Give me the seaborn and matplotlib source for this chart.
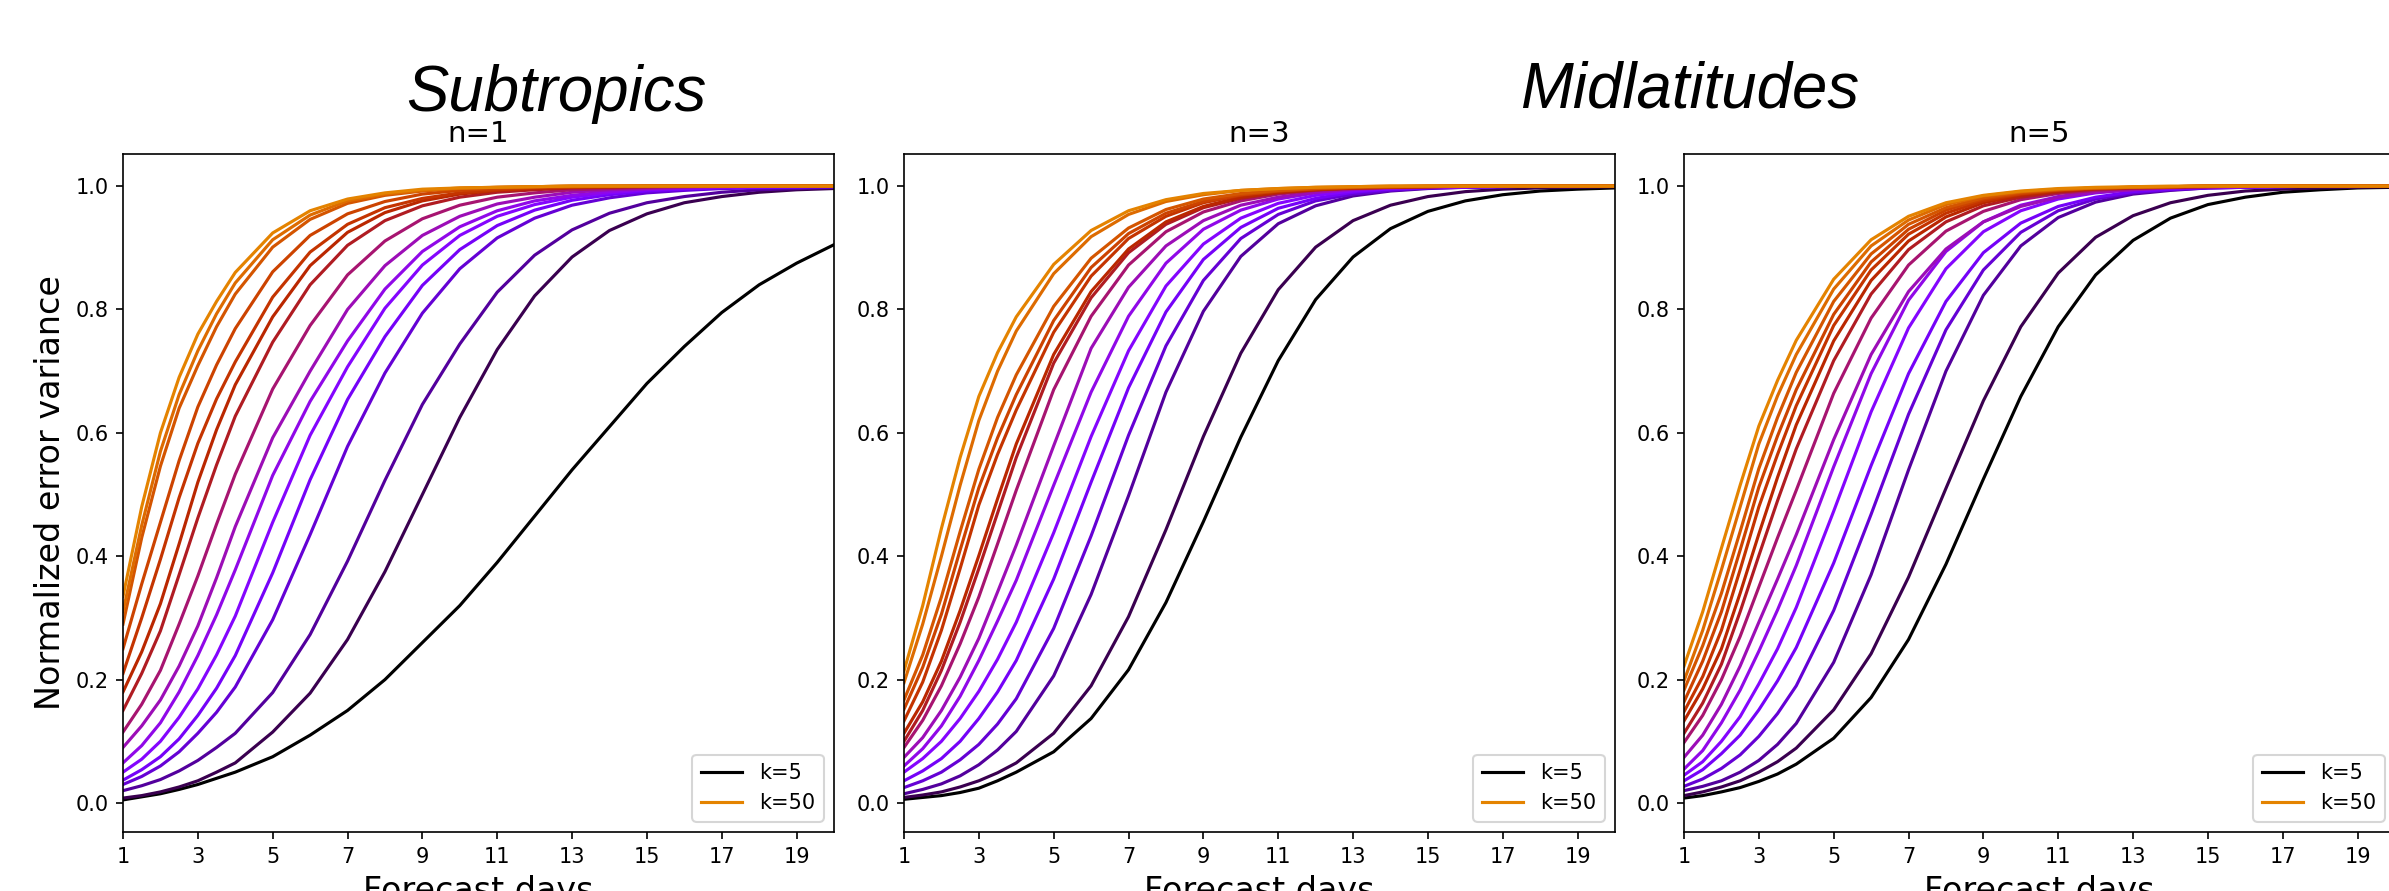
import matplotlib
matplotlib.use("Agg")
import matplotlib.pyplot as plt
import seaborn as sns
import numpy as np

days = [1, 1.5, 2, 2.5, 3, 3.5, 4, 5, 6, 7, 8, 9, 10, 11, 12, 13, 14, 15, 16, 17, 18, 19, 20]
k_values = [5, 8, 11, 14, 17, 20, 23, 26, 29, 32, 35, 38, 41, 44, 47, 50]
panel_titles = ["n=1", "n=3", "n=5"]
region_titles = ["Subtropics", "Midlatitudes"]

values_n1 = [
    [.005, .010, .015, .022, .030, .040, .050, .075, .110, .150, .200, .260, .320, .390, .465, .540, .610, .680, .740, .795, .840, .875, .905],
    [.008, .012, .018, .026, .036, .050, .065, .115, .178, .265, .375, .500, .625, .735, .822, .885, .928, .955, .973, .983, .990, .994, .996],
    [.020, .028, .038, .052, .069, .090, .113, .179, .273, .392, .523, .646, .744, .828, .888, .929, .956, .973, .983, .990, .994, .996, .998],
    [.030, .043, .060, .083, .113, .147, .188, .297, .435, .578, .697, .794, .866, .916, .948, .969, .981, .989, .993, .996, .997, .998, .999],
    [.037, .054, .075, .104, .142, .186, .239, .373, .524, .654, .756, .839, .897, .936, .961, .977, .986, .992, .995, .997, .998, .999, .999],
    [.050, .071, .100, .139, .185, .240, .303, .455, .596, .707, .802, .872, .920, .951, .970, .982, .989, .994, .996, .998, .999, .999, 1.0],
    [.065, .093, .130, .180, .239, .305, .378, .531, .651, .749, .833, .894, .934, .960, .976, .985, .991, .995, .997, .998, .999, 1.0, 1.0],
    [.090, .125, .167, .222, .287, .365, .448, .592, .700, .800, .871, .920, .951, .971, .982, .990, .994, .996, .998, .999, 1.0, 1.0, 1.0],
    [.115, .160, .215, .290, .368, .452, .533, .671, .774, .856, .911, .947, .969, .982, .989, .994, .996, .998, .999, 1.0, 1.0, 1.0, 1.0],
    [.150, .210, .279, .370, .462, .548, .627, .747, .840, .904, .944, .968, .982, .990, .994, .997, .998, .999, 1.0, 1.0, 1.0, 1.0, 1.0],
    [.180, .245, .323, .420, .520, .605, .678, .788, .871, .925, .957, .976, .987, .993, .996, .998, .999, 1.0, 1.0, 1.0, 1.0, 1.0, 1.0],
    [.210, .300, .395, .495, .583, .655, .715, .820, .893, .938, .965, .980, .989, .994, .997, .998, .999, 1.0, 1.0, 1.0, 1.0, 1.0, 1.0],
    [.250, .355, .455, .555, .642, .710, .769, .861, .920, .955, .975, .987, .993, .996, .998, .999, 1.0, 1.0, 1.0, 1.0, 1.0, 1.0, 1.0],
    [.290, .430, .546, .640, .709, .772, .825, .901, .946, .972, .985, .992, .996, .998, .999, 1.0, 1.0, 1.0, 1.0, 1.0, 1.0, 1.0, 1.0],
    [.310, .450, .570, .662, .733, .793, .843, .913, .953, .976, .987, .993, .997, .998, .999, 1.0, 1.0, 1.0, 1.0, 1.0, 1.0, 1.0, 1.0],
    [.335, .480, .600, .690, .760, .813, .860, .924, .960, .979, .989, .995, .997, .998, .999, 1.0, 1.0, 1.0, 1.0, 1.0, 1.0, 1.0, 1.0],
]

values_n3 = [
    [.006, .009, .012, .017, .024, .036, .050, .083, .137, .216, .325, .456, .593, .717, .816, .885, .931, .959, .976, .986, .992, .995, .997],
    [.009, .013, .018, .026, .036, .049, .065, .113, .190, .302, .443, .594, .729, .832, .901, .944, .969, .983, .991, .995, .997, .998, .999],
    [.015, .022, .031, .044, .062, .086, .116, .206, .338, .498, .666, .797, .886, .939, .968, .984, .992, .996, .998, .999, 1.0, 1.0, 1.0],
    [.025, .036, .050, .070, .095, .128, .169, .283, .433, .596, .741, .847, .915, .954, .976, .987, .993, .997, .998, .999, 1.0, 1.0, 1.0],
    [.036, .052, .072, .100, .137, .180, .231, .363, .520, .673, .796, .881, .933, .964, .980, .990, .995, .997, .998, .999, 1.0, 1.0, 1.0],
    [.050, .072, .100, .137, .181, .233, .293, .438, .594, .733, .838, .906, .948, .972, .985, .992, .996, .998, .999, 1.0, 1.0, 1.0, 1.0],
    [.060, .088, .125, .173, .231, .295, .361, .515, .666, .789, .875, .930, .961, .979, .989, .994, .997, .998, .999, 1.0, 1.0, 1.0, 1.0],
    [.074, .106, .150, .204, .267, .342, .418, .579, .737, .836, .903, .944, .969, .982, .990, .995, .997, .998, .999, 1.0, 1.0, 1.0, 1.0],
    [.090, .134, .190, .258, .334, .420, .507, .670, .789, .872, .926, .958, .976, .987, .993, .996, .998, .999, 1.0, 1.0, 1.0, 1.0, 1.0],
    [.100, .150, .215, .293, .380, .470, .560, .713, .819, .892, .938, .965, .980, .989, .994, .997, .998, .999, 1.0, 1.0, 1.0, 1.0, 1.0],
    [.113, .164, .230, .312, .401, .493, .582, .727, .829, .898, .942, .967, .982, .990, .994, .997, .998, .999, 1.0, 1.0, 1.0, 1.0, 1.0],
    [.133, .196, .280, .380, .483, .565, .637, .763, .854, .915, .951, .973, .985, .992, .995, .997, .998, .999, 1.0, 1.0, 1.0, 1.0, 1.0],
    [.152, .220, .306, .410, .511, .592, .662, .782, .868, .923, .956, .975, .986, .992, .996, .998, .999, 1.0, 1.0, 1.0, 1.0, 1.0, 1.0],
    [.167, .240, .334, .440, .541, .625, .694, .805, .883, .932, .962, .979, .988, .993, .996, .998, .999, 1.0, 1.0, 1.0, 1.0, 1.0, 1.0],
    [.195, .290, .400, .515, .620, .700, .765, .858, .918, .954, .975, .986, .993, .996, .998, .999, 1.0, 1.0, 1.0, 1.0, 1.0, 1.0, 1.0],
    [.214, .320, .445, .560, .659, .730, .788, .873, .928, .960, .978, .988, .993, .996, .998, .999, 1.0, 1.0, 1.0, 1.0, 1.0, 1.0, 1.0],
]

values_n5 = [
    [.008, .012, .018, .025, .035, .047, .063, .105, .171, .265, .387, .525, .659, .772, .856, .912, .948, .970, .982, .990, .994, .997, .998],
    [.012, .018, .026, .036, .050, .067, .089, .151, .242, .366, .510, .652, .772, .859, .917, .952, .973, .985, .992, .995, .997, .998, .999],
    [.020, .027, .036, .050, .069, .095, .129, .228, .370, .540, .700, .823, .903, .949, .974, .987, .993, .997, .998, .999, 1.0, 1.0, 1.0],
    [.027, .039, .056, .078, .108, .145, .190, .312, .468, .630, .767, .864, .925, .960, .979, .989, .994, .997, .998, .999, 1.0, 1.0, 1.0],
    [.036, .054, .080, .110, .151, .198, .252, .389, .547, .696, .813, .892, .940, .967, .982, .991, .995, .997, .998, .999, 1.0, 1.0, 1.0],
    [.045, .067, .100, .140, .193, .250, .317, .473, .634, .770, .866, .926, .960, .979, .989, .994, .997, .998, .999, 1.0, 1.0, 1.0, 1.0],
    [.055, .085, .130, .183, .246, .313, .385, .545, .696, .815, .894, .942, .969, .983, .991, .995, .998, .999, 1.0, 1.0, 1.0, 1.0, 1.0],
    [.074, .110, .160, .222, .293, .363, .435, .589, .727, .829, .898, .942, .967, .982, .990, .994, .997, .998, .999, 1.0, 1.0, 1.0, 1.0],
    [.098, .142, .200, .270, .350, .430, .507, .664, .786, .872, .927, .959, .978, .988, .993, .996, .998, .999, 1.0, 1.0, 1.0, 1.0, 1.0],
    [.113, .162, .225, .310, .401, .490, .574, .717, .825, .897, .942, .968, .982, .990, .995, .997, .998, .999, 1.0, 1.0, 1.0, 1.0, 1.0],
    [.133, .185, .250, .340, .436, .528, .613, .749, .847, .911, .950, .973, .985, .992, .996, .998, .999, 1.0, 1.0, 1.0, 1.0, 1.0, 1.0],
    [.148, .205, .280, .378, .480, .565, .644, .774, .864, .922, .956, .976, .987, .993, .996, .998, .999, 1.0, 1.0, 1.0, 1.0, 1.0, 1.0],
    [.164, .230, .310, .410, .512, .595, .670, .792, .877, .930, .961, .979, .988, .994, .997, .998, .999, 1.0, 1.0, 1.0, 1.0, 1.0, 1.0],
    [.183, .255, .340, .440, .542, .625, .698, .813, .890, .938, .965, .981, .990, .994, .997, .998, .999, 1.0, 1.0, 1.0, 1.0, 1.0, 1.0],
    [.198, .280, .378, .480, .582, .660, .727, .833, .903, .945, .970, .984, .991, .995, .997, .998, .999, 1.0, 1.0, 1.0, 1.0, 1.0, 1.0],
    [.222, .310, .413, .515, .611, .685, .750, .849, .913, .951, .973, .985, .992, .996, .998, .999, 1.0, 1.0, 1.0, 1.0, 1.0, 1.0, 1.0],
]

panels = [values_n1, values_n3, values_n5]
colors = plt.get_cmap("gnuplot")(np.linspace(0, 0.8, len(k_values)))

W, H, DPI = 2389, 891, 150
fig = plt.figure(figsize=(W / DPI, H / DPI), dpi=DPI)
ax_w, ax_h, ax_b = 711 / W, 678 / H, 59 / H
lefts = [123 / W, 904 / W, 1684 / W]

for i, (vals, title) in enumerate(zip(panels, panel_titles)):
    ax = fig.add_axes([lefts[i], ax_b, ax_w, ax_h])
    for k, series, col in zip(k_values, vals, colors):
        n = min(len(days), len(series))
        lab = f"k={k}" if k in (k_values[0], k_values[-1]) else "_nolegend_"
        sns.lineplot(x=days[:n], y=series[:n], color=col, linewidth=1.5, ax=ax, label=lab)
    ax.set_xlim(1, 20)
    ax.set_ylim(-0.047, 1.052)
    ax.set_xticks(list(range(1, 20, 2)))
    ax.set_yticks([0.0, 0.2, 0.4, 0.6, 0.8, 1.0])
    ax.tick_params(labelsize=10)
    ax.set_title(title, fontsize=14)
    ax.set_xlabel("Forecast days", fontsize=16)
    if i == 0:
        ax.set_ylabel("Normalized error variance", fontsize=16)
    else:
        ax.set_ylabel("")
    ax.legend(loc="lower right", fontsize=10)

fig.text(556 / W, (H - 111) / H, region_titles[0], fontsize=30.5, style="italic",
         family="Liberation Sans", ha="center", va="baseline")
fig.text(1690 / W, (H - 107) / H, region_titles[1], fontsize=30.5, style="italic",
         family="Liberation Sans", ha="center", va="baseline")

fig.savefig("out.png", dpi=DPI)
